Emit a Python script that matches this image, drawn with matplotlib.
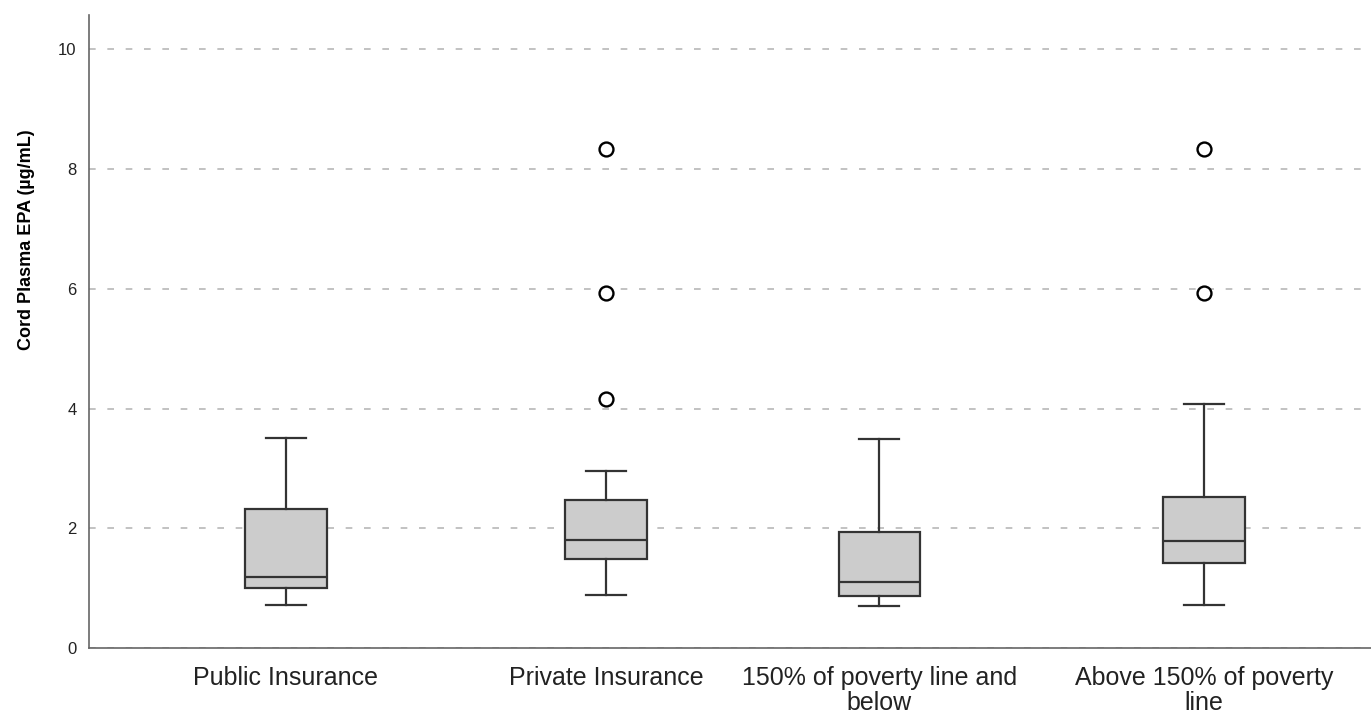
import matplotlib
matplotlib.use("Agg")
import matplotlib.pyplot as plt

# groups and box statistics
groups = ["Public Insurance", "Private Insurance",
          "150% of poverty line and\nbelow", "Above 150% of poverty\nline"]
whislo = [0.72, 0.88, 0.70, 0.72]
q1 = [1.00, 1.49, 0.87, 1.42]
med = [1.19, 1.80, 1.10, 1.79]
q3 = [2.32, 2.47, 1.94, 2.52]
whishi = [3.51, 2.95, 3.49, 4.07]
fliers = [[], [4.16, 5.93, 8.33], [], [5.93, 8.33]]
yticks = [0, 2, 4, 6, 8, 10]

# layout: the original is two charts stitched side by side
positions = [0.615, 1.615, 2.47, 3.485]

plt.rcParams['font.family'] = ['Liberation Sans', 'DejaVu Sans']

fig = plt.figure(figsize=(13.71, 7.13), dpi=100)
ax = fig.add_axes([0.065, 0.091, 0.935, 0.888])

stats = []
for i in range(len(groups)):
    stats.append(dict(whislo=whislo[i], q1=q1[i], med=med[i], q3=q3[i],
                      whishi=whishi[i], fliers=fliers[i]))

ax.bxp(stats, positions=positions, widths=0.255, capwidths=0.125,
       patch_artist=True, manage_ticks=False,
       boxprops=dict(facecolor='#cccccc', edgecolor='#333333', linewidth=1.6),
       medianprops=dict(color='#333333', linewidth=1.6),
       whiskerprops=dict(color='#333333', linewidth=1.6),
       capprops=dict(color='#333333', linewidth=1.6),
       flierprops=dict(marker='o', markerfacecolor='white', markeredgecolor='black',
                       markersize=10, markeredgewidth=1.7))

ax.set_xlim(0, 4.006)
ax.set_ylim(0, 10.57)
ax.set_yticks(yticks)
ax.set_yticklabels([str(t) for t in yticks], fontsize=12, color='#222222')
ax.set_xticks(positions)
ax.set_xticklabels(groups, fontsize=18, color='#222222', linespacing=1.05)
ax.tick_params(axis='both', length=0)
ax.tick_params(axis='y', pad=9)
ax.tick_params(axis='x', pad=13)

ax.yaxis.grid(True, linestyle=(0, (4, 7)), color='#b8b8b8', linewidth=1.2)
ax.set_axisbelow(True)
for s in ['top', 'right']:
    ax.spines[s].set_visible(False)
ax.spines['left'].set_color('#666666')
ax.spines['bottom'].set_color('#666666')
ax.spines['left'].set_linewidth(1.2)
ax.spines['bottom'].set_linewidth(1.2)

ax.set_ylabel("Cord Plasma EPA (µg/mL)", fontsize=13, fontweight='bold',
              family=['Liberation Sans Narrow', 'Liberation Sans', 'DejaVu Sans'])
ax.yaxis.set_label_coords(-0.042, 0.645)

fig.savefig("out.png", dpi=100)
